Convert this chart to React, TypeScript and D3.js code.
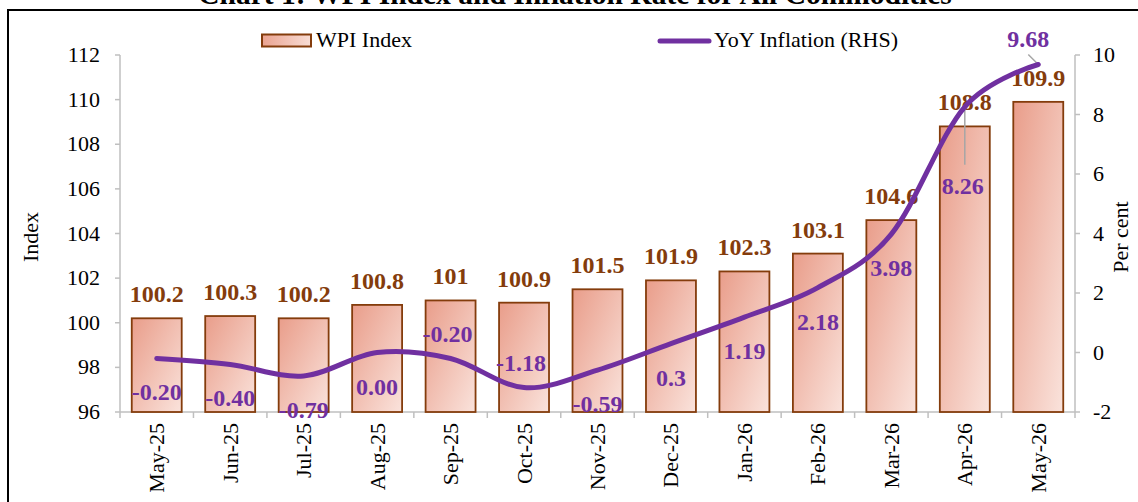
import React from "react";
import * as d3 from "d3";

const categories = ["May-25","Jun-25","Jul-25","Aug-25","Sep-25","Oct-25","Nov-25","Dec-25","Jan-26","Feb-26","Mar-26","Apr-26","May-26"];
const wpiIndex = [100.2,100.3,100.2,100.8,101,100.9,101.5,101.9,102.3,103.1,104.6,108.8,109.9];
const inflation = [-0.2,-0.4,-0.79,0.0,-0.2,-1.18,-0.59,0.3,1.19,2.18,3.98,8.26,9.68];
const inflationLabels = ["-0.20","-0.40","-0.79","0.00","-0.20","-1.18","-0.59","0.3","1.19","2.18","3.98","8.26","9.68"];
const leftTicks = [96,98,100,102,104,106,108,110,112];
const rightTicks = [-2,0,2,4,6,8,10];

// label placement (layout, not data): [dx, dy-to-baseline]
const lineLabelOffsets: [number, number][] = [
  [0,42],[0,42],[0,42],[0,42],[-3,-16],[-3,-17],[0,42],[0,42],[0,42],[0,42],[0,42],[-2,87],[-10,-18],
];

const W = 1138, H = 502;
const FONT = "'Liberation Serif', 'Times New Roman', serif";
const BROWN = "#843C0C";
const PURPLE = "#7030A0";
const AXIS = "#BFBFBF";

export default function App() {
  const x0 = 120, x1 = 1075, yTop = 55, yBot = 412;
  const x = d3.scaleBand<string>().domain(categories).range([x0, x1]).padding(0);
  const yL = d3.scaleLinear().domain([96, 112]).range([yBot, yTop]);
  const yR = d3.scaleLinear().domain([-2, 10]).range([yBot, yTop]);
  const step = x.step();
  const bw = step * 0.68;
  const cx = (c: string) => (x(c) as number) + step / 2;

  const line = d3.line<number>()
    .x((_, i) => cx(categories[i]))
    .y((d) => yR(d))
    .curve(d3.curveCatmullRom.alpha(0));

  const boundaries = d3.range(categories.length + 1).map((i) => x0 + i * step);

  return (
    <svg width={W} height={H} style={{ position: "absolute", left: 0, top: 0, background: "#fff" }} fontFamily={FONT}>
      <defs>
        <linearGradient id="barGrad" x1="0" y1="0" x2="1" y2="1">
          <stop offset="0" stopColor="#E99D8A" />
          <stop offset="1" stopColor="#FAE3DC" />
        </linearGradient>
        <linearGradient id="legGrad" x1="0" y1="0" x2="1" y2="0">
          <stop offset="0" stopColor="#EBA391" />
          <stop offset="1" stopColor="#F8DDD5" />
        </linearGradient>
      </defs>
      <rect x={0} y={0} width={W} height={H} fill="#fff" />
      {/* title (cut off at top) */}
      <text x={575} y={4} textAnchor="middle" fontWeight="bold" fontSize={29.5} fill="#000">
        Chart 1: WPI Index and Inflation Rate for All Commodities
      </text>
      {/* frame */}
      <rect x={8} y={10} width={W + 10} height={H + 10} fill="none" stroke="#000" strokeWidth={2} />

      {/* legend */}
      <rect x={262} y={34.5} width={49} height={12} fill="url(#legGrad)" stroke={BROWN} strokeWidth={2} />
      <text x={316} y={47} fontSize={22} fill="#000">WPI Index</text>
      <line x1={660} x2={709} y1={41} y2={41} stroke={PURPLE} strokeWidth={5} strokeLinecap="round" />
      <text x={714} y={47} fontSize={22} fill="#000">YoY Inflation (RHS)</text>

      {/* left axis */}
      <line x1={x0} x2={x0} y1={yTop} y2={yBot} stroke={AXIS} strokeWidth={1.5} />
      {leftTicks.map((t) => (
        <g key={"l" + t}>
          <line x1={x0 - 5} x2={x0} y1={yL(t)} y2={yL(t)} stroke={AXIS} strokeWidth={1.5} />
          <text x={100} y={yL(t) + 7} textAnchor="end" fontSize={22} fill="#000">{t}</text>
        </g>
      ))}
      <text transform={`translate(38,237) rotate(-90)`} textAnchor="middle" fontSize={22} fill="#000">Index</text>

      {/* right axis */}
      <line x1={x1} x2={x1} y1={yTop} y2={yBot} stroke={AXIS} strokeWidth={1.5} />
      {rightTicks.map((t) => (
        <g key={"r" + t}>
          <line x1={x1} x2={x1 + 5} y1={yR(t)} y2={yR(t)} stroke={AXIS} strokeWidth={1.5} />
          <text x={1093} y={yR(t) + 7} textAnchor="start" fontSize={22} fill="#000">{t}</text>
        </g>
      ))}
      <text transform={`translate(1128,237) rotate(-90)`} textAnchor="middle" fontSize={22} fill="#000">Per cent</text>

      {/* x axis */}
      <line x1={x0} x2={x1} y1={yBot} y2={yBot} stroke={AXIS} strokeWidth={1.5} />
      {boundaries.map((b, i) => (
        <line key={"xt" + i} x1={b} x2={b} y1={yBot} y2={yBot + 6} stroke={AXIS} strokeWidth={1.5} />
      ))}
      {categories.map((c) => (
        <text key={"xl" + c} transform={`translate(${cx(c) + 7.5},${yBot + 11}) rotate(-90)`} textAnchor="end" fontSize={22} fill="#000">{c}</text>
      ))}

      {/* bars */}
      {categories.map((c, i) => (
        <rect key={"b" + c} x={cx(c) - bw / 2} y={yL(wpiIndex[i])} width={bw} height={yBot - yL(wpiIndex[i])}
          fill="url(#barGrad)" stroke={BROWN} strokeWidth={1.8} />
      ))}
      {categories.map((c, i) => (
        <text key={"bl" + c} x={cx(c)} y={yL(wpiIndex[i]) - 16} textAnchor="middle" fontWeight="bold" fontSize={24} fill={BROWN}>
          {String(wpiIndex[i])}
        </text>
      ))}

      {/* leader lines */}
      {(() => {
        const iA = 11, iM = 12;
        const pA = [cx(categories[iA]), yR(inflation[iA])];
        const bA = yR(inflation[iA]) + lineLabelOffsets[iA][1];
        const pM = [cx(categories[iM]), yR(inflation[iM])];
        const bM = yR(inflation[iM]) + lineLabelOffsets[iM][1];
        return (
          <g stroke="#A6A6A6" strokeWidth={1.5}>
            <line x1={pA[0]} y1={pA[1]} x2={pA[0]} y2={bA - 29} />
            <line x1={pM[0] - 10} y1={bM + 8} x2={pM[0]} y2={pM[1]} />
          </g>
        );
      })()}

      {/* inflation line */}
      <path d={line(inflation) || ""} fill="none" stroke={PURPLE} strokeWidth={5} strokeLinecap="round" />

      {categories.map((c, i) => (
        <text key={"ll" + c} x={cx(c) + lineLabelOffsets[i][0]} y={yR(inflation[i]) + lineLabelOffsets[i][1]}
          textAnchor="middle" fontWeight="bold" fontSize={24} fill={PURPLE}>
          {inflationLabels[i]}
        </text>
      ))}
    </svg>
  );
}
